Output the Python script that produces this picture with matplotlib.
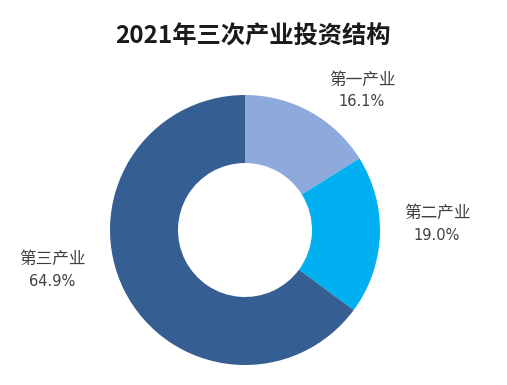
import matplotlib
matplotlib.use("Agg")
import matplotlib.pyplot as plt

plt.rcParams['font.family'] = ['Noto Sans CJK SC', 'DejaVu Sans']

title = "2021年三次产业投资结构"
categories = ["第一产业", "第二产业", "第三产业"]
values = [16.1, 19.0, 64.9]
colors = ["#8EA9DB", "#00B0F0", "#355E93"]

W, H = 507, 385
fig = plt.figure(figsize=(W / 100, H / 100), dpi=100)
fig.patch.set_facecolor("white")

cx, cy, R, r = 245, 230, 135, 67
ax = fig.add_axes([(cx - R) / W, 1 - (cy + R) / H, 2 * R / W, 2 * R / H])
ax.pie(values, colors=colors, startangle=90, counterclock=False,
       radius=1, wedgeprops=dict(width=1 - r / R, linewidth=0))
ax.set_xlim(-1, 1)
ax.set_ylim(-1, 1)
ax.set_aspect("equal")
ax.axis("off")

fig.text(253 / W, 1 - 37 / H, title, ha="center", va="center",
         fontsize=17.5, fontweight="heavy", color="#1a1a1a")

label_pos = [(362, 80), (437, 213), (52, 259)]
for (x, y), cat, v in zip(label_pos, categories, values):
    fig.text(x / W, 1 - y / H, cat, ha="center", va="center",
             fontsize=12, fontweight="medium", color="#404040")
    fig.text(x / W, 1 - (y + 22) / H, f"{v:.1f}%", ha="center", va="center",
             fontsize=10.5, color="#404040", family="DejaVu Sans")

fig.savefig("out.png", dpi=100, facecolor="white")
